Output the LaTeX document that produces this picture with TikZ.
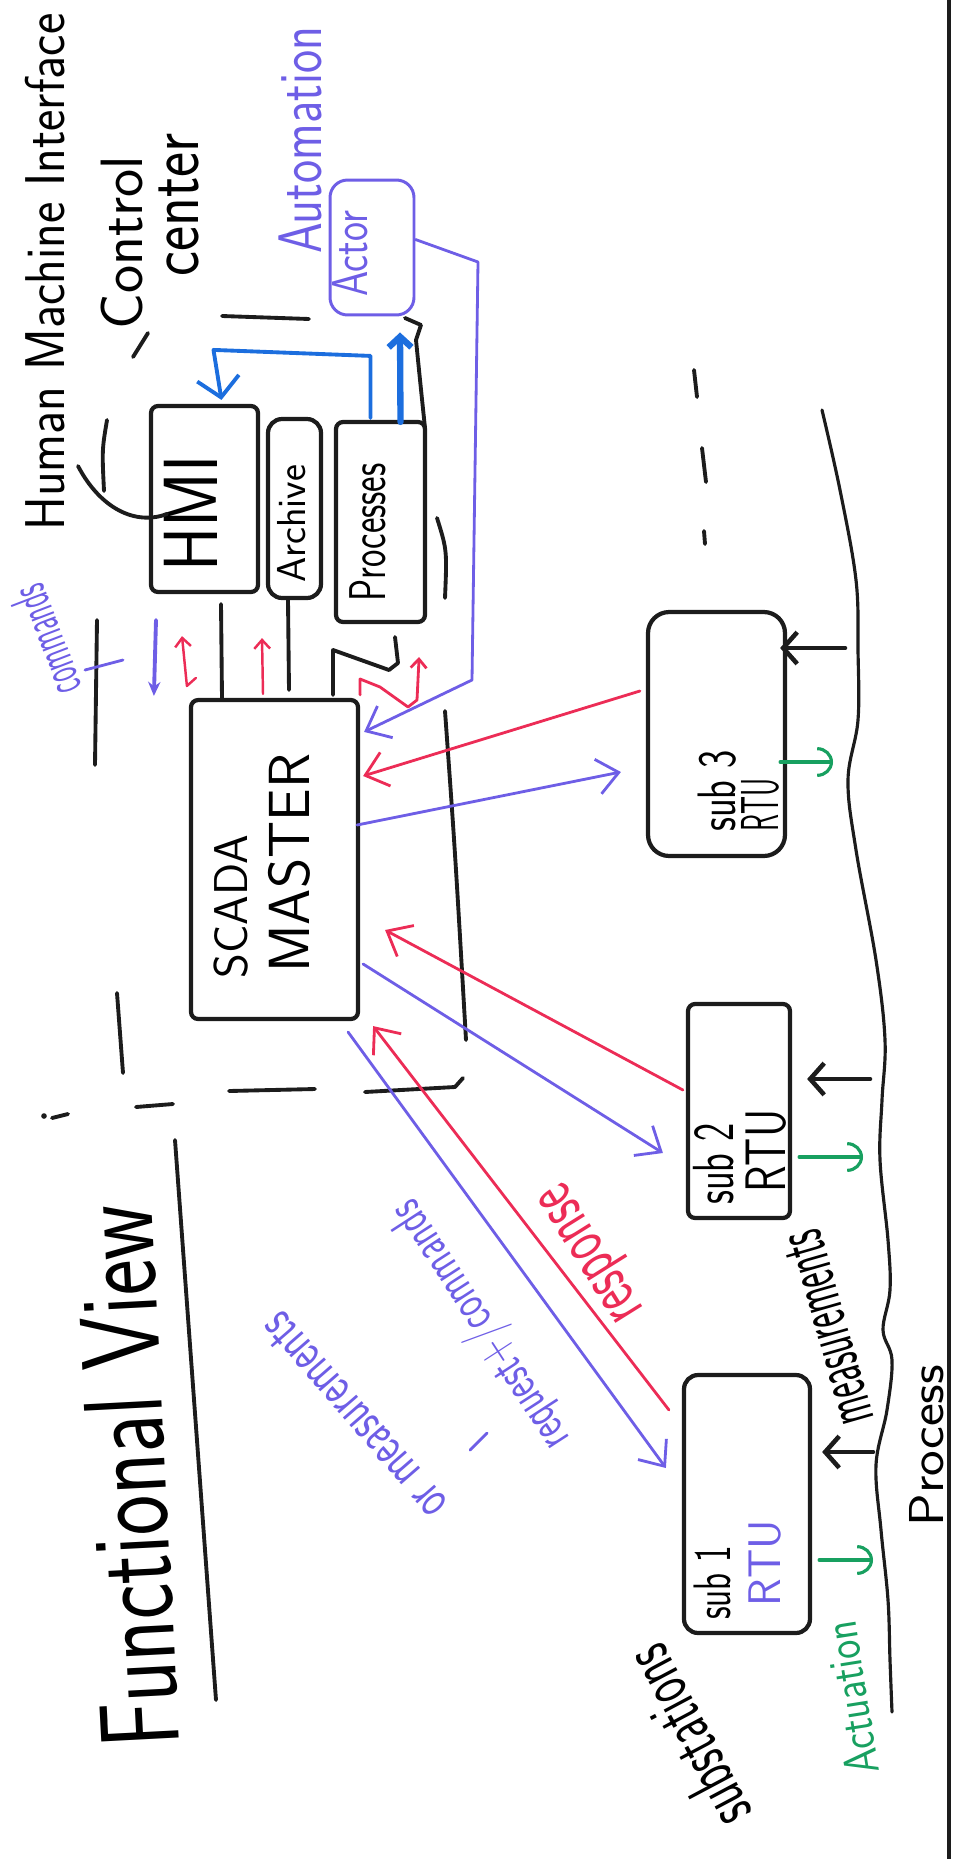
\documentclass[tikz,border=0pt]{standalone}
\usepackage{fontspec}
\usepackage{tikz}
\usetikzlibrary{arrows.meta}

\definecolor{ink}{RGB}{28,28,28}
\definecolor{violetpen}{RGB}{110,94,230}
\definecolor{redpen}{RGB}{236,44,86}
\definecolor{bluepen}{RGB}{28,110,222}
\definecolor{greenpen}{RGB}{24,160,96}
\newcommand{\hsz}[1]{\fontsize{#1pt}{#1pt}\selectfont\sffamily}

\begin{document}
\begin{tikzpicture}[x=0.02cm, y=-0.02cm,
  box/.style={draw=ink, line width=2.4pt, rounded corners=4pt, inner sep=0pt},
  lab/.style 2 args={inner sep=0pt, anchor=base west, rotate=#1, yscale=#2},
  slab/.style 2 args={inner sep=0pt, anchor=center, rotate=#1, yscale=#2},
  pen/.style={draw=ink, line width=2.2pt, line cap=round, line join=round},
  vio/.style={draw=violetpen, line width=1.6pt, line cap=round},
  vwire/.style={draw=violetpen, line width=1.6pt, line cap=round, line join=round, -{Straight Barb[length=12pt,width=20pt]}},
  rwire/.style={draw=redpen, line width=1.6pt, line cap=round, line join=round, -{Straight Barb[length=12pt,width=20pt]}},
  vsmall/.style={draw=violetpen, line width=2.2pt, line cap=round, -{Stealth[length=8pt,width=7pt]}},
  rsmall/.style={draw=redpen, line width=1.4pt, line cap=round, line join=round, -{Straight Barb[length=5pt,width=9pt]}},
  bwire/.style={draw=bluepen, line width=2.2pt, line cap=round, line join=round, -{Straight Barb[length=11pt,width=24pt]}},
  bthick/.style={draw=bluepen, line width=3.6pt, line cap=round, -{Straight Barb[length=6pt,width=13pt]}},
  meas/.style={draw=ink, line width=2.6pt, line cap=round, -{Straight Barb[length=8pt,width=18pt]}},
  act/.style={draw=greenpen, line width=1.8pt, line cap=round, -{Arc Barb[length=9pt,width=17pt]}}]
 \useasboundingbox (0,0) rectangle (963,1859);
 \clip (0,0) rectangle (963,1859);
 \draw[ink, line width=2.8pt] (949,0) -- (949,1859);

 \node (actor) [box, draw=violetpen, line width=1.7pt, rounded corners=10pt, minimum width=1.68cm, minimum height=2.7cm] at (372,247.5) {};
 \node (hmi) [box, minimum width=2.14cm, minimum height=3.72cm] at (204.5,499) {};
 \node (archive) [box, rounded corners=8pt, minimum width=1.06cm, minimum height=3.58cm] at (294.5,508.5) {};
 \node (proc) [box, minimum width=1.78cm, minimum height=4cm] at (380.5,522) {};
 \node (master) [box, minimum width=3.34cm, minimum height=6.38cm] at (274.5,859.5) {};
 \node (sub3) [box, rounded corners=12pt, minimum width=2.74cm, minimum height=4.88cm] at (716.5,734) {};
 \node (sub2) [box, minimum width=2.04cm, minimum height=4.28cm] at (739,1111) {};
 \node (sub1) [box, rounded corners=8pt, minimum width=2.52cm, minimum height=5.16cm] at (747,1504) {};

 \node (actorT) [lab={90}{1.25}, font=\hsz{23}, text=violetpen] at (367,297) {Actor};
 \node (hmiT) [lab={90}{1.15}, font=\hsz{38}] at (217,572) {HMI};
 \node (archT) [lab={90}{1}, font=\hsz{23}] at (305,583) {Archive};
 \node (procT) [lab={90}{1.4}, font=\hsz{21}] at (385,602) {Processes};
 \node (masterA) [lab={90}{1}, font=\hsz{27}] at (247,979) {SCADA};
 \node (masterB) [lab={90}{1}, font=\hsz{33}] at (309,973) {MASTER};
 \node (sub3a) [lab={90}{1.4}, font=\hsz{22}] at (735,832) {sub 3};
 \node (sub3b) [lab={90}{1.9}, font=\hsz{16}] at (778,832) {RTU};
 \node (sub2a) [lab={90}{1.5}, font=\hsz{22}] at (733,1205) {sub 2};
 \node (sub2b) [lab={90}{1.3}, font=\hsz{25}] at (785,1193) {RTU};
 \node (sub1a) [lab={90}{1.5}, font=\hsz{20}] at (730,1620) {sub 1};
 \node (sub1b) [lab={90}{1}, font=\hsz{26}, text=violetpen] at (780,1607) {RTU};

 \node (title) [lab={93}{1.3}, font=\hsz{49}] at (180,1746) {Functional View};
 \node (hmiL) [lab={90}{1.1}, font=\hsz{29}] at (64,531) {Human Machine Interface};
 \node (ccA) [lab={90}{1}, font=\hsz{34}] at (142,330) {Control};
 \node (ccB) [lab={90}{1.2}, font=\hsz{34}] at (198,277) {center};
 \node (autoL) [lab={90}{1.25}, font=\hsz{28}, text=violetpen] at (321,254) {Automation};
 \node (cmdL) [slab={111}{2}, font=\hsz{15.5}, text=violetpen] at (45,641) {commands};
 \node (reqL) [slab={123}{1.5}, font=\hsz{20}, text=violetpen] at (481,1325) {request+/commands};
 \node (orL) [slab={131}{1.5}, font=\hsz{22}, text=violetpen] at (354,1416) {or measurements};
 \node (respL) [slab={122}{1.6}, font=\hsz{26}, text=redpen] at (596,1250) {response};
 \node (measL) [slab={106}{2}, font=\hsz{20.5}] at (828,1328) {measurements};
 \node (actL) [slab={99}{1.2}, font=\hsz{23}, text=greenpen] at (851,1698) {Actuation};
 \node (subsL) [slab={118}{1.6}, font=\hsz{25.5}] at (686,1738) {substations};
 \node (procL) [lab={90}{0.9}, font=\hsz{31}] at (943,1527) {Process};

 \draw[pen] (148,333) -- (133,357);
 \draw[pen] (222,316) -- (309,319);
 \draw[pen] (107,420) .. controls (102,450) .. (104,491);
 \draw[pen] (78,466) .. controls (100,508) and (135,526) .. (167,514);
 \draw[pen] (97,620) -- (95,765);
 \draw[pen] (221,604) -- (222,698);
 \draw[pen] (288,600) -- (289,690);
 \draw[pen] (437,518) .. controls (447,550) .. (445,598);
 \draw[pen] (395,637) -- (398,663) -- (389,670) -- (333,650) -- (333,695);
 \draw[pen] (405,318) -- (421,325) -- (416,340) .. controls (420,380) .. (425,428);
 \draw[pen] (445,711) .. controls (455,850) .. (466,1040);
 \draw[pen] (117,993) -- (123,1073);
 \draw[pen] (52,1118) -- (68,1114);
 \fill[ink] (44,1116) circle (1.6pt);
 \draw[pen] (136,1107) -- (173,1104);
 \draw[pen] (229,1091) -- (315,1089);
 \draw[pen] (365,1092) -- (455,1087) -- (463,1078);
 \draw[pen] (694,370) -- (697,397);
 \draw[pen] (702,448) -- (706,482);
 \draw[pen] (704,531) -- (705,544);
 \draw[pen] (175,1140) -- (216,1700);
 \draw[vio] (85,670) -- (123,660);
 \draw[vio] (470,1450) -- (487,1433);
 \draw[pen, line width=1.8pt] plot[smooth, tension=0.6] coordinates {(822,410) (840,490) (856,580) (858,650) (858,720) (848,780) (856,850) (876,960) (885,1040) (882,1100) (880,1160) (888,1240) (890,1290) (883,1330) (892,1360) (887,1410) (876,1465) (881,1530) (888,1600) (890,1660) (892,1712)};

 \draw[bwire] ([shift={(-10,-2)}]proc.north) -- ++(0,-62) -- ([shift={(9,-54)}]hmi.north) -- ([shift={(17,-4)}]hmi.north);
 \draw[bthick] ([shift={(20,2)}]proc.north) -- ([shift={(28,16)}]actor.south);
 \draw[vwire] ([shift={(0,-8)}]actor.east) -- (478,262) -- (472,680) -- ([shift={(4,34)}]master.north east);

 \draw[vsmall] ([shift={(-48.5,26)}]hmi.south) -- ([shift={(-35,-2)}]master.north west);
 \draw[rsmall] ([shift={(7,-20)}]master.north west) -- ([shift={(-2,-12)}]master.north west) -- ([shift={(-22.5,42)}]hmi.south);
 \draw[rsmall] ([shift={(-11.5,-4)}]master.north) -- ([shift={(-32.5,38)}]archive.south);
 \draw[rsmall, line width=1.6pt] ([shift={(0,-3)}]master.north east) -- (360,679) -- (380,687) -- (408,707) -- (417,700) -- ([shift={(-8,33)}]proc.south east);

 \draw[rwire] ([shift={(-6,-43)}]sub3.west) -- ([shift={(3,-83.5)}]master.east);
 \draw[vwire] ([shift={(-3,-34.5)}]master.east) -- ([shift={(-25,38)}]sub3.west);
 \draw[rwire] ([shift={(-3,-21)}]sub2.west) -- ([shift={(25,70.5)}]master.east);
 \draw[vwire] ([shift={(3,104.5)}]master.east) -- ([shift={(-23,42)}]sub2.west);
 \draw[rwire] ([shift={(-13,37)}]sub1.north west) -- ([shift={(13,5)}]master.south east);
 \draw[vwire] ([shift={(-12,11)}]master.south east) -- ([shift={(-16,-36)}]sub1.west);

 \coordinate (m3) at (845,648);
 \coordinate (m2) at (870,1079);
 \coordinate (m1) at (873,1452);
 \coordinate (a3) at (833,762);
 \coordinate (a2) at (863,1157);
 \coordinate (a1) at (873,1560);
 \draw[meas] (m3) -- ([xshift=-0.14cm]sub3.east |- m3);
 \draw[meas] (m2) -- ([xshift=0.3cm]sub2.east |- m2);
 \draw[meas] (m1) -- ([xshift=0.2cm]sub1.east |- m1);
 \draw[act] ([xshift=-0.14cm]sub3.east |- a3) -- (a3);
 \draw[act] ([xshift=0.14cm]sub2.east |- a2) -- (a2);
 \draw[act] ([xshift=0.14cm]sub1.east |- a1) -- (a1);
\end{tikzpicture}
\end{document}
